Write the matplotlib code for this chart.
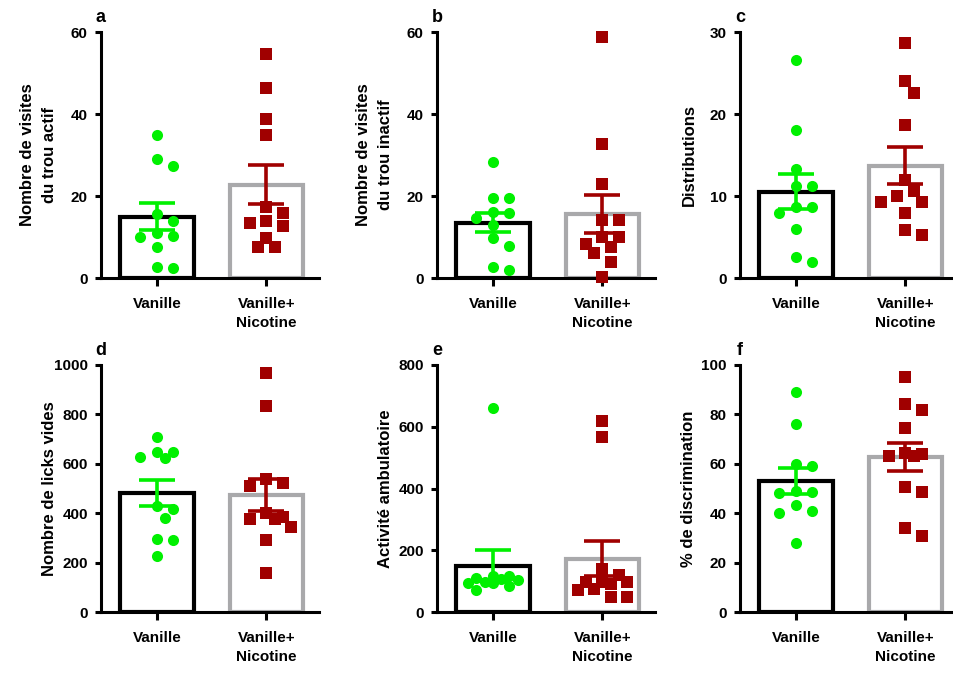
import numpy as np
import matplotlib.pyplot as plt

plt.rcParams['font.family'] = ['Liberation Sans', 'DejaVu Sans']
plt.rcParams['font.weight'] = 'bold'

groups = ['Vanille', 'Vanille+\nNicotine']
letters = ['a', 'b', 'c', 'd', 'e', 'f']
ylabels = ['Nombre de visites\ndu trou actif',
           'Nombre de visites\ndu trou inactif',
           'Distributions',
           'Nombre de licks vides',
           'Activité ambulatoire',
           '% de discrimination']
ymax = [60, 60, 30, 1000, 800, 100]
ystep = [20, 20, 10, 200, 200, 20]

# values, one point per animal
vanille_a = [35, 29, 27.3, 15.5, 14, 11, 10, 10.2, 7.5, 2.8, 2.5]
nicotine_a = [54.6, 46.3, 38.7, 35, 17.2, 15.9, 13.3, 12.8, 14, 9.8, 7.6, 7.6]
vanille_b = [28.2, 19.6, 19.6, 15.8, 16, 14.6, 12.9, 9.7, 7.8, 1.9, 2.7]
nicotine_b = [58.9, 32.6, 22.9, 14.1, 14.1, 9.9, 9.9, 7.6, 8.2, 6, 3.9, 0.3]
vanille_c = [26.6, 18, 13.3, 11.25, 11.25, 8.6, 7.9, 8.6, 5.95, 2.6, 1.9]
nicotine_c = [28.7, 24, 22.6, 18.6, 12, 10.6, 9.95, 9.25, 9.25, 7.9, 5.9, 5.3]
vanille_d = [709, 649, 628, 622, 649, 428, 419, 381, 297, 291, 227]
nicotine_d = [966, 835, 538, 522, 510, 400, 385, 376, 376, 344, 291, 158]
vanille_e = [660, 103, 98, 116, 84, 71, 95, 116, 95, 106, 110]
nicotine_e = [619, 567, 138, 98, 98, 119, 98, 92, 71, 74, 49, 49]
vanille_f = [88.9, 76.1, 60.1, 59.1, 49.1, 48, 48.6, 43.2, 40.9, 40.1, 28]
nicotine_f = [95.3, 84.1, 81.8, 74.3, 63.8, 63.1, 63.1, 64.5, 50.7, 48.6, 34.2, 30.8]

data = [(vanille_a, nicotine_a), (vanille_b, nicotine_b), (vanille_c, nicotine_c),
        (vanille_d, nicotine_d), (vanille_e, nicotine_e), (vanille_f, nicotine_f)]

green = '#00f000'
red = '#a00000'
gray = '#a9a9ab'

W, H = 954, 673
fig = plt.figure(figsize=(W / 100, H / 100), dpi=100)

lefts = [101, 437, 740]
rows = [(32, 278), (365, 612)]
ax_w = 218
xlim = (-0.51, 1.48)


def swarm(values, ppu_y, ppu_x, diam=12.0, step=8.3, nmax=3):
    # beeswarm limited to a few slots each side; overlap allowed when full
    values = np.asarray(values, dtype=float)
    order = np.argsort(-values)
    cands = [0.0] + [s * j * step for j in range(1, nmax + 1) for s in (1, -1)]
    placed = []
    offs = np.zeros(len(values))
    for i in order:
        y = values[i] * ppu_y
        best, best_d = 0.0, -1.0
        for c in cands:
            d = min([np.hypot(c - px, y - py) for px, py in placed] or [1e9])
            if d >= diam:
                best = c
                break
            if d > best_d + 0.5:
                best, best_d = c, d
        placed.append((best, y))
        offs[i] = best / ppu_x
    return offs


for k in range(6):
    r, c = divmod(k, 3)
    top, bot = rows[r]
    ax = fig.add_axes([lefts[c] / W, 1 - bot / H, ax_w / W, (bot - top) / H])
    ppu_y = (bot - top) / ymax[k]
    ppu_x = ax_w / (xlim[1] - xlim[0])
    for g, vals in enumerate(data[k]):
        vals = np.asarray(vals, dtype=float)
        mean = vals.mean()
        sem = vals.std(ddof=1) / np.sqrt(len(vals))
        edge = 'black' if g == 0 else gray
        col = green if g == 0 else red
        mk = 'o' if g == 0 else 's'
        ax.bar(g, mean, width=0.67, facecolor='white', edgecolor=edge,
               linewidth=3, zorder=2)
        x = g + swarm(vals, ppu_y, ppu_x)
        ax.plot(x, vals, mk, color=col, markersize=8, markeredgewidth=0,
                zorder=3, clip_on=False)
        ax.errorbar(g, mean, yerr=sem, color=col, elinewidth=2.6,
                    capsize=13, capthick=2.6, zorder=4)

    ax.set_xlim(*xlim)
    ax.set_ylim(0, ymax[k])
    ax.set_yticks(np.arange(0, ymax[k] + 1, ystep[k]))
    ax.set_xticks([0, 1])
    ax.set_xticklabels(groups)
    for lbl in ax.get_xticklabels():
        lbl.set_linespacing(1.5)
    for s in ['top', 'right']:
        ax.spines[s].set_visible(False)
    for s in ['left', 'bottom']:
        ax.spines[s].set_linewidth(2.2)
    ax.tick_params(axis='y', length=4.5, width=2.2, labelsize=11, pad=5)
    ax.tick_params(axis='x', length=5.5, width=2.2, labelsize=11, pad=8)
    ax.set_ylabel(ylabels[k], fontsize=12, fontweight='bold', linespacing=1.6)
    ax.yaxis.set_label_coords(-0.2, 0.5)
    ax.text(0.0, 1.04, letters[k], transform=ax.transAxes, fontsize=13,
            fontweight='bold', ha='center', va='baseline')

fig.savefig('out.png', dpi=100)
